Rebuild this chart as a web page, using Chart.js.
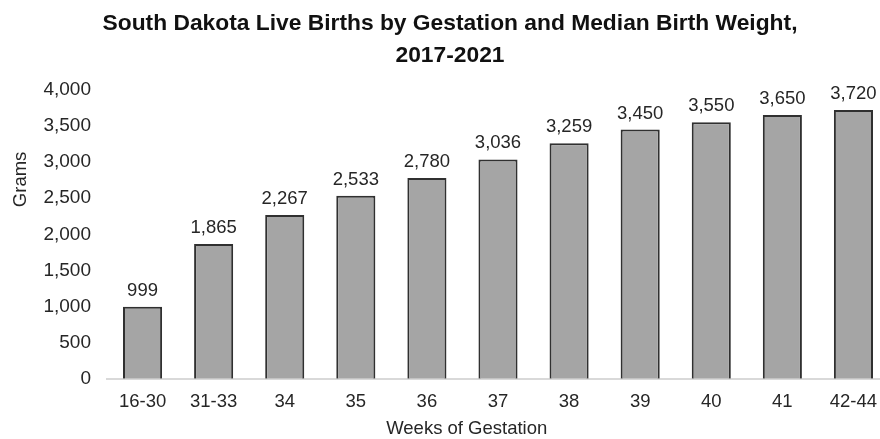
<!DOCTYPE html>
<html>
<head>
<meta charset="utf-8">
<script src="https://cdn.jsdelivr.net/npm/chart.js@4"></script>
<style>
  html, body { margin: 0; background: #fff; overflow: hidden; }
  #wrap { width: 900px; height: 439px; }
</style>
</head>
<body>
<div id="wrap"><canvas id="chart"></canvas></div>
<script>
const weeks = ['16-30', '31-33', '34', '35', '36', '37', '38', '39', '40', '41', '42-44'];
const medianWeight = [999, 1865, 2267, 2533, 2780, 3036, 3259, 3450, 3550, 3650, 3720];
const titleLines = ['South Dakota Live Births by Gestation and Median Birth Weight,', '2017-2021'];
const yTitle = 'Grams';
const xTitle = 'Weeks of Gestation';

const FONT = '"Liberation Sans", Arial, sans-serif';
const TEXT = '#262626';

// valeurs au-dessus des barres + titres des axes (placés comme dans Excel)
const extras = {
    id: 'extras',
    afterDatasetsDraw(chart) {
        const ctx = chart.ctx;
        const area = chart.chartArea;
        const meta = chart.getDatasetMeta(0);
        ctx.save();
        ctx.font = '18.5px ' + FONT;
        ctx.fillStyle = TEXT;
        ctx.textAlign = 'center';
        ctx.textBaseline = 'alphabetic';
        meta.data.forEach((bar, i) => {
            ctx.fillText(medianWeight[i].toLocaleString('en-US'), bar.x, bar.y - 11);
        });

        ctx.fillText(xTitle, area.left + (area.right - area.left) * 0.46, 434);

        ctx.translate(26, area.top + (area.bottom - area.top) * 0.31);
        ctx.rotate(-Math.PI / 2);
        ctx.fillText(yTitle, 0, 0);
        ctx.restore();
    }
};

new Chart(document.getElementById('chart'), {
    type: 'bar',
    data: {
        labels: weeks,
        datasets: [{
            data: medianWeight,
            backgroundColor: '#a5a5a5',
            borderColor: '#303030',
            borderWidth: 2,
            barPercentage: 0.55,
            categoryPercentage: 1
        }]
    },
    options: {
        responsive: true,
        maintainAspectRatio: false,
        animation: false,
        layout: { padding: { left: 11, right: 11, top: 0, bottom: 22 } },
        plugins: {
            legend: { display: false },
            tooltip: { enabled: false },
            title: {
                display: true,
                text: titleLines,
                color: '#111',
                font: { family: FONT, size: 22.8, weight: 'bold', lineHeight: 1.4 },
                padding: { top: 8, bottom: 18 }
            }
        },
        scales: {
            x: {
                grid: { display: false },
                border: { color: '#d9d9d9', width: 2 },
                ticks: { color: TEXT, font: { family: FONT, size: 18.5 }, padding: 4, maxRotation: 0 }
            },
            y: {
                min: 0,
                max: 4000,
                afterFit: scale => { scale.width = 96; },
                grid: { display: false },
                border: { display: false },
                ticks: {
                    stepSize: 500,
                    color: TEXT,
                    padding: 8,
                    font: { family: FONT, size: 19 },
                    callback: v => v.toLocaleString('en-US')
                }
            }
        }
    },
    plugins: [extras]
});
</script>
</body>
</html>
